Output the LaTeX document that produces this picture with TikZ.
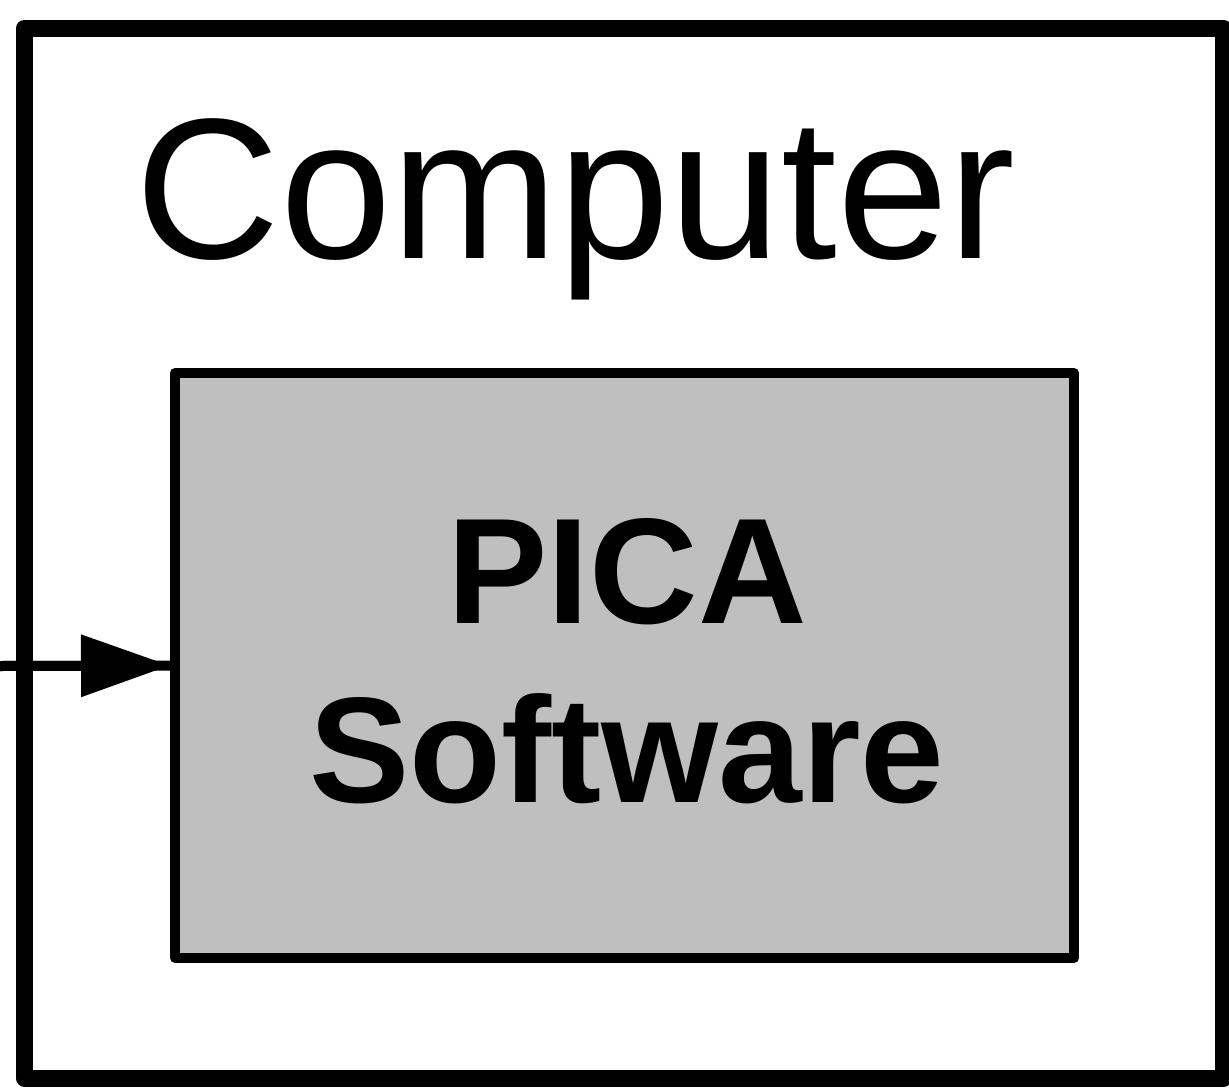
\documentclass[tikz,border=0pt]{standalone}
\usepackage{fontspec}
\setmainfont{Liberation Sans}
\usetikzlibrary{arrows.meta,positioning}

\begin{document}
\begin{tikzpicture}
    [x=1cm, y=1cm,
    every node/.style={inner sep=0pt, outer sep=0pt},
    machine/.style={draw, line width=0.17cm, line join=round,
        minimum width=11.99cm, minimum height=10.5cm},
    program/.style={draw, line width=0.1cm, line join=round, fill=black!25,
        minimum width=8.99cm, minimum height=5.85cm},
    caption/.style={anchor=base, font=\fontsize{57}{60}\selectfont},
    label/.style={align=center, font=\fontsize{42.8}{50.9}\selectfont\bfseries},
    feed/.style={line width=0.1cm}
    ]
    \useasboundingbox (0,0) rectangle (12.29,-10.88);
    \node (computer) [machine] at (6.24,-5.53) {};
    \node (title) [caption] at (5.755,-2.58) {Computer};
    \node (pica) [program] at (6.245,-6.655) {};
    \node (name) [label] at (6.27,-6.61) {PICA\\Software};
    \coordinate (in) at (0,-6.66);
    \draw [feed] (in) -- (pica.west);
    \draw [feed, -{Triangle[length=0.89cm, width=0.6cm]}, shorten >=0.05cm] (in) -- (pica.west);
\end{tikzpicture}
\end{document}
